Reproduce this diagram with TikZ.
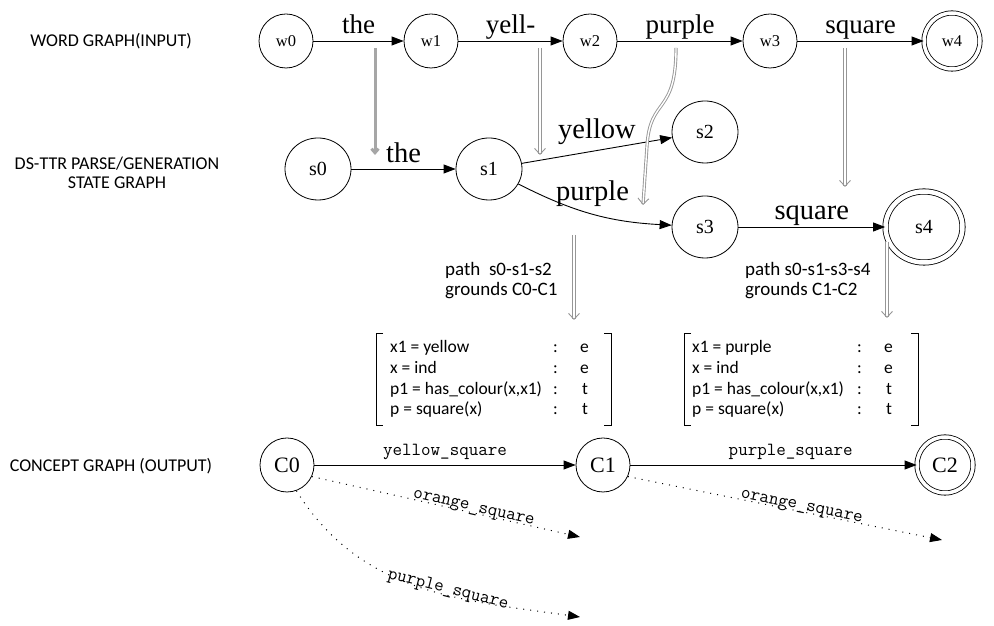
\documentclass[tikz,border=0pt]{standalone}
\usepackage{fontspec}
\setmainfont{Liberation Serif}
\newfontfamily\calib{Carlito}
\usetikzlibrary{arrows.meta,shapes.geometric}
\definecolor{gr}{RGB}{150,150,150}
\begin{document}
\begin{tikzpicture}[x=1pt,y=1pt,
  wnode/.style={circle,draw,line width=0.8pt,minimum size=54pt,inner sep=0pt,font=\fontsize{16.5}{16.5}\selectfont},
  wfin/.style={wnode,double,double distance=3.5pt,minimum size=56pt},
  snode/.style={ellipse,draw,line width=0.8pt,minimum width=66pt,minimum height=62pt,inner sep=0pt,font=\fontsize{20}{20}\selectfont},
  sfin/.style={snode,double,double distance=4.5pt,minimum width=77pt,minimum height=71pt},
  cnode/.style={wnode,font=\fontsize{22}{22}\selectfont},
  cfin/.style={wfin,font=\fontsize{22}{22}\selectfont},
  arr/.style={line width=0.9pt,-{Triangle[length=12pt,width=9pt]}},
  dotarr/.style={line width=1pt,dash pattern=on 1pt off 6pt,-{Triangle[length=12pt,width=9pt]}},
  wlab/.style={midway,anchor=base,inner sep=0pt,font=\fontsize{27}{27}\selectfont},
  slab/.style={midway,anchor=base,inner sep=0pt,font=\fontsize{28.5}{28.5}\selectfont},
  mlab/.style={inner sep=0pt,font=\ttfamily\fontsize{18.5}{18.5}\selectfont},
  side/.style={font=\calib\fontsize{18}{19}\selectfont,align=center,inner sep=0pt},
  ptext/.style={font=\calib\fontsize{19}{20}\selectfont,align=left,inner sep=0pt,anchor=north west},
  rowt/.style={font=\calib\fontsize{17.5}{17.5}\selectfont,inner sep=0pt,anchor=base west},
  brk/.style={line width=0.8pt},
  garr/.style={draw=gr,double=white,double distance=1.4pt,line width=0.9pt,-{Straight Barb[length=6pt,width=11pt]}},
  gsolid/.style={draw=gr!85,line width=3pt,-{Straight Barb[length=4pt,width=7pt]}}
]
\useasboundingbox (0,0) rectangle (994,626);

% side labels
\node[side] (lw) at (111,585) {WORD GRAPH(INPUT)};
\node[side] (ls) at (117,453) {DS-TTR PARSE/GENERATION\\STATE GRAPH};
\node[side] (lc) at (111,160) {CONCEPT GRAPH (OUTPUT)};

% word graph
\node[wnode] (w0) at (286,585) {w0};
\node[wnode] (w1) at (431,585) {w1};
\node[wnode] (w2) at (590,585) {w2};
\node[wnode] (w3) at (770,585) {w3};
\node[wfin]  (w4) at (952,585) {w4};
\draw[arr] (w0) -- node[wlab,yshift=7pt]{the} (w1);
\draw[arr] (w1) -- node[wlab,yshift=7pt]{yell-} (w2);
\draw[arr] (w2) -- node[wlab,yshift=7pt]{purple} (w3);
\draw[arr] (w3) -- node[wlab,yshift=7pt]{square} (w4);

% state graph
\node[snode] (s0) at (318,457) {s0};
\node[snode] (s1) at (489,457) {s1};
\node[snode] (s2) at (705,494) {s2};
\node[snode] (s3) at (705,399) {s3};
\node[sfin]  (s4) at (924,399) {s4};
\draw[arr] (s0) -- node[slab,yshift=6pt]{the} (s1);
\draw[arr] (s1) -- node[slab,yshift=12pt]{yellow} (s2);
\draw[arr] (s1) to[bend right=12] node[slab,yshift=13pt]{purple} (s3);
\draw[arr] (s3) -- node[slab,yshift=7pt]{square} (s4);

% gray mapping arrows
\coordinate (g1a) at (375,578); \coordinate (g1b) at (375,471);
\coordinate (g2a) at (540,578); \coordinate (g2b) at (540,471);
\coordinate (g3a) at (676,578); \coordinate (g3b) at (643,421);
\coordinate (g4a) at (845,578); \coordinate (g4b) at (845,439);
\coordinate (g5a) at (574,391); \coordinate (g5b) at (574,306);
\coordinate (g6a) at (887,384); \coordinate (g6b) at (887,308);
\draw[gsolid] (g1a) -- (g1b);
\draw[garr] (g2a) -- (g2b);
\draw[garr] (g3a) .. controls (676,510) and (650,530) .. (647,480) -- (g3b);
\draw[garr] (g4a) -- (g4b);
\draw[garr] (g5a) -- (g5b);
\draw[garr] (g6a) -- (g6b);

% path texts
\node[ptext] (p1) at (445,364) {path\ \ s0-s1-s2\\grounds C0-C1};
\node[ptext] (p2) at (745,364) {path s0-s1-s3-s4\\grounds C1-C2};

% record type 1
\draw[brk] (383,293) -- (376,293) -- (376,201) -- (383,201);
\draw[brk] (604,293) -- (611,293) -- (611,201) -- (604,201);
\node[rowt] (a1) at (390,273) {x1 = yellow};
\node[rowt] (a2) at (390,252) {x = ind};
\node[rowt] (a3) at (390,231) {p1 = has\_colour(x,x1)};
\node[rowt] (a4) at (390,211) {p = square(x)};
\node[rowt] (a1c) at (553,273) {:};
\node[rowt] (a2c) at (553,252) {:};
\node[rowt] (a3c) at (553,231) {:};
\node[rowt] (a4c) at (553,211) {:};
\node[rowt] (a1t) at (580,273) {e};
\node[rowt] (a2t) at (580,252) {e};
\node[rowt] (a3t) at (582,231) {t};
\node[rowt] (a4t) at (582,211) {t};

% record type 2
\draw[brk] (691,293) -- (684,293) -- (684,201) -- (691,201);
\draw[brk] (911,293) -- (918,293) -- (918,201) -- (911,201);
\node[rowt] (b1) at (692,273) {x1 = purple};
\node[rowt] (b2) at (692,252) {x = ind};
\node[rowt] (b3) at (692,231) {p1 = has\_colour(x,x1)};
\node[rowt] (b4) at (692,211) {p = square(x)};
\node[rowt] (b1c) at (857,273) {:};
\node[rowt] (b2c) at (857,252) {:};
\node[rowt] (b3c) at (857,231) {:};
\node[rowt] (b4c) at (857,211) {:};
\node[rowt] (b1t) at (884,273) {e};
\node[rowt] (b2t) at (884,252) {e};
\node[rowt] (b3t) at (886,231) {t};
\node[rowt] (b4t) at (886,211) {t};

% concept graph
\node[cnode] (C0) at (287,161) {C0};
\node[cnode] (C1) at (603,161) {C1};
\node[cfin]  (C2) at (945,161) {C2};
\draw[arr] (C0) -- node[mlab,midway,anchor=base,yshift=9pt]{yellow\_square} (C1);
\draw[arr] (C1) -- node[mlab,pos=0.56,anchor=base,yshift=9pt]{purple\_square} (C2);
\coordinate (d1) at (580,89);
\coordinate (d2) at (942,86);
\coordinate (d3) at (580,9);
\draw[dotarr] (C0.-25) -- node[mlab,sloped,pos=0.6,above=-3pt]{orange\_square} (d1);
\draw[dotarr] (C1.-25) -- node[mlab,sloped,pos=0.55,above=-3pt]{orange\_square} (d2);
\draw[dotarr] (C0.-70) to[out=-58,in=172] node[mlab,sloped,pos=0.6,above=-3pt]{purple\_square} (d3);
\end{tikzpicture}
\end{document}
